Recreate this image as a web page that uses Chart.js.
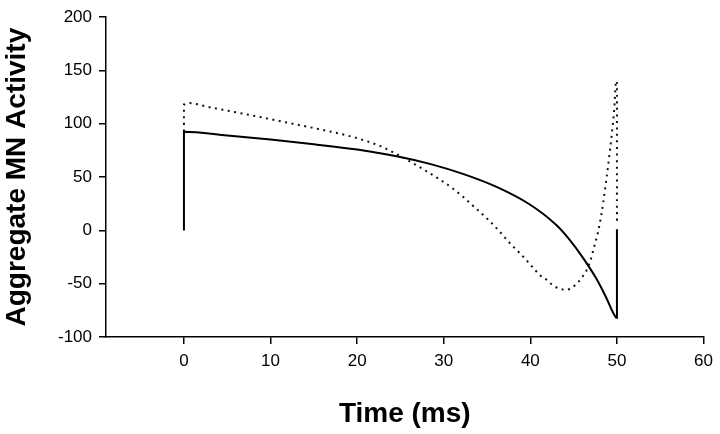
<!DOCTYPE html>
<html>
<head>
<meta charset="utf-8">
<script src="https://cdn.jsdelivr.net/npm/chart.js@4/dist/chart.umd.min.js"></script>
<style>
  html, body { margin: 0; background: #fff; }
</style>
</head>
<body>
<canvas id="myChart" width="720" height="434"></canvas>
<script>
// tick labels
const timeTicks = [0, 10, 20, 30, 40, 50, 60];

// solid trace
const solidX = [0, 0, 5, 10, 15, 20, 24.7, 28.5, 32.3, 36.1, 39.9, 43, 44.5, 46.1, 47.6, 48.7, 49.9, 50, 50];
const solidY = [0, 92.5, 89, 85.2, 80.8, 75.8, 69.3, 62.2, 52.8, 40.8, 24.5, 5, -8.5, -26, -45, -62, -81.7, -82, 1];

// dotted trace
const dottedX = [0, 0, 0.5, 3, 6, 9, 12, 15, 18.2, 20, 22.7, 24.1, 25.6, 27.7, 29.3, 30.8, 32.3, 33.6, 35.2, 36.5, 37.7, 39.1, 40.1, 41.1, 41.9, 42.6, 43.3, 44.1, 44.7, 45.5, 46.1, 46.5, 47, 47.4, 47.8, 48.2, 48.6, 49, 49.4, 49.7, 49.9, 50, 50];
const dottedY = [93, 118, 119.5, 115.5, 110.8, 106, 101, 96, 90.3, 86.5, 79, 73.5, 67, 57, 49, 40.8, 31, 21.5, 9.5, -1.5, -12.5, -24, -33, -41.9, -46.5, -51.5, -54.5, -55.7, -54.2, -48.7, -42.5, -37.3, -26.6, -14.3, -2.1, 14.7, 37, 62, 90, 115, 140, 140, 5];

const fontFamily = '"Liberation Sans", Arial, sans-serif';

function toPoints(xs, ys) {
    return xs.map((x, i) => ({ x: x, y: ys[i] }));
}

const ctx = document.getElementById('myChart').getContext('2d');
new Chart(ctx, {
    type: 'line',
    data: {
        datasets: [{
            label: 'dotted',
            data: toPoints(dottedX, dottedY),
            borderColor: '#111',
            borderWidth: 2,
            borderDash: [2, 4.5],
            borderCapStyle: 'butt',
            pointRadius: 0,
            cubicInterpolationMode: 'monotone',
            fill: false
        }, {
            label: 'solid',
            data: toPoints(solidX, solidY),
            borderColor: '#000',
            borderWidth: 2,
            pointRadius: 0,
            cubicInterpolationMode: 'monotone',
            fill: false
        }]
    },
    options: {
        responsive: false,
        animation: false,
        devicePixelRatio: 1,
        layout: {
            padding: { top: 10, right: 13, bottom: 0, left: 0 }
        },
        plugins: {
            legend: { display: false },
            tooltip: { enabled: false }
        },
        scales: {
            x: {
                type: 'linear',
                min: -9,
                max: 60,
                afterBuildTicks: (scale) => {
                    scale.ticks = timeTicks.map(v => ({ value: v }));
                },
                afterFit: (scale) => {
                    scale.height = 97;
                },
                grid: {
                    drawOnChartArea: false,
                    drawTicks: true,
                    tickLength: 7,
                    color: '#000',
                    lineWidth: 1.5
                },
                border: {
                    display: true,
                    color: '#000',
                    width: 1.5
                },
                ticks: {
                    color: '#000',
                    padding: 7,
                    maxRotation: 0,
                    font: { size: 17, family: fontFamily }
                },
                title: {
                    display: true,
                    text: 'Time (ms)',
                    color: '#000',
                    padding: { top: 0, bottom: 3 },
                    font: { size: 28, weight: 'bold', family: fontFamily }
                }
            },
            y: {
                min: -100,
                max: 200,
                ticks: {
                    stepSize: 50,
                    color: '#000',
                    padding: 7,
                    font: { size: 17, family: fontFamily }
                },
                afterFit: (scale) => {
                    scale.width = 106;
                },
                grid: {
                    drawOnChartArea: false,
                    drawTicks: true,
                    tickLength: 7,
                    color: '#000',
                    lineWidth: 1.5
                },
                border: {
                    display: true,
                    color: '#000',
                    width: 1.5
                },
                title: {
                    display: true,
                    text: 'Aggregate MN Activity',
                    color: '#000',
                    padding: { top: 0, bottom: 0 },
                    font: { size: 28, weight: 'bold', family: fontFamily }
                }
            }
        }
    }
});
</script>
</body>
</html>
